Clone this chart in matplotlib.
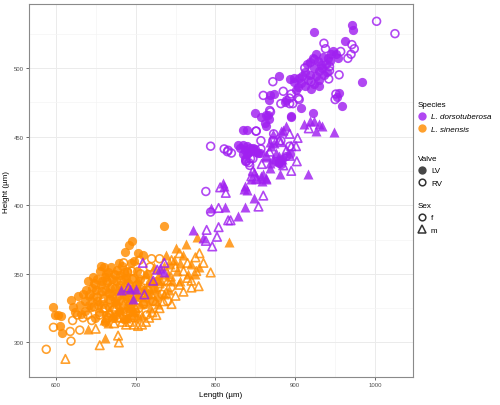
import matplotlib
matplotlib.use("Agg")
import matplotlib.pyplot as plt
from matplotlib.lines import Line2D

plt.rcParams['font.family'] = ['Liberation Sans', 'DejaVu Sans']

# ---------------- data (Length, Height in µm) ----------------
# L. dorsotuberosa, LV, female (filled circles)
dor_lv_f = [(923,526),(971,531),(972,528),(963,520),(984,490),(947,512),(951,510),(954,507),
            (945,510),(941,507),(922,507),(918,504),(928,505),(932,502),(924,500),(930,498),
            (934,500),(936,495),(926,494),(930,491),(918,495),(916,491),(909,494),(905,493),
            (907,489),(903,486),(901,484),(899,490),(912,487),(920,485),(924,488),(930,487),
            (955,482),(953,479),(959,472),(907,471),(893,492),(880,494),(868,480),(874,481),
            (889,477),(887,475),(895,464),(867,477),(850,467),(857,464),(864,466),(867,463),
            (862,460),(864,458),(922,467),(835,455),(839,455),(828,444),(835,444),(839,443),
            (847,442),(851,439),(853,438),(841,438),(835,437),(876,432),(880,431),(884,434),
            (889,436),(893,437),(882,430),(866,466),(895,465),(831,442),(837,440),(843,442),
            (850,441),(856,438),(839,437),(837,434),(898,493),(912,497),(938,503),(940,497),
            (915,503),(935,508),(926,510),(944,505)]
# L. dorsotuberosa, RV, female (open circles)
dor_rv_f = [(1002,534),(1025,525),(971,517),(974,514),(970,510),(957,512),(936,518),(966,507),
            (943,498),(942,492),(955,495),(943,501),(912,500),(924,506),(950,477),(951,481),
            (905,477),(904,478),(893,474),(885,483),(882,474),(872,490),(860,480),(869,468),
            (893,478),(895,481),(851,454),(873,452),(794,443),(816,440),(820,438),(839,432),
            (842,431),(844,434),(847,440),(857,441),(872,447),(882,447),(893,443),(897,474),
            (788,410),(794,395),(811,441),(815,439),(851,454),(857,447),(838,432),(847,434),
            (843,429),(868,469),(920,490),(938,514)]
# L. dorsotuberosa, LV, male (filled triangles)
dor_lv_m = [(889,458),(882,454),(872,452),(868,446),(870,443),(876,438),(880,436),(884,434),
            (878,432),(872,434),(864,435),(868,431),(860,423),(864,419),(881,423),(916,423),
            (810,416),(837,414),(926,454),(949,453),(911,459),(930,459),(918,461),(923,461),
            (933,458),(885,455),(857,421),(852,420),(848,424),(845,419),(858,418),(863,420),
            (868,427),(874,445),(811,414),(836,412),(840,411),(848,405),(837,399),(812,399),
            (795,398),(828,392),(772,382),(785,376),(682,338),(693,339),(700,339),(697,332),
            (736,351),(730,354)]
# L. dorsotuberosa, RV, male (open triangles)
dor_rv_m = [(893,452),(903,449),(882,446),(895,443),(901,443),(889,440),(893,436),(885,429),
            (895,425),(858,430),(847,425),(845,421),(851,419),(917,456),(902,432),(880,447),
            (868,439),(864,436),(806,413),(813,409),(804,398),(860,407),(854,399),(804,384),
            (816,389),(819,389),(789,382),(802,377),(796,370),(788,374),(709,358),(736,358),
            (727,353),(722,345),(711,335),(691,340)]
# L. sinensis, LV, female (filled circles)
sin_lv_f = [(596,326),(599,320),(603,320),(606,319),(605,312),(608,307),(619,331),(621,326),
            (628,334),(630,327),(624,322),(632,321),(636,330),(638,338),(640,345),(642,334),
            (644,326),(645,340),(646,348),(648,343),(650,338),(651,330),(652,346),(654,322),
            (655,352),(656,335),(657,342),(659,328),(660,355),(661,348),(662,338),(663,320),
            (664,344),(665,332),(666,351),(667,326),(668,340),(669,355),(670,346),(671,334),
            (672,318),(673,350),(674,340),(675,328),(676,345),(677,353),(678,336),(679,322),
            (680,342),(681,349),(682,331),(683,356),(684,339),(685,317),(686,346),(687,366),
            (688,334),(689,352),(690,325),(691,343),(692,371),(693,337),(694,358),(695,330),
            (696,374),(697,347),(698,359),(699,322),(700,341),(702,352),(703,365),(704,333),
            (706,346),(709,364),(710,338),(712,328),(714,350),(716,335),(718,343),(720,330),
            (722,338),(725,345),(728,333),(736,385),(647,333),(649,318),(653,327),(658,345),
            (663,350),(667,336),(674,330),(679,358),(684,324),(688,347),(693,322),(702,318),
            (642,327),(637,323),(634,335),(661,315),(657,356),(676,320),(685,351),(690,318)]
# L. sinensis, RV, female (open circles)
sin_rv_f = [(588,295),(597,311),(618,308),(619,301),(621,316),(630,309),(634,318),(627,320),
            (640,320),(645,316),(648,326),(652,333),(655,320),(658,337),(662,325),(664,345),
            (666,318),(668,331),(671,340),(673,324),(675,349),(677,333),(680,318),(682,345),
            (684,330),(686,340),(688,322),(690,351),(692,336),(694,328),(696,346),(698,318),
            (700,333),(702,342),(704,325),(706,350),(708,336),(710,328),(712,345),(714,320),
            (716,338),(718,355),(720,361),(722,330),(725,348),(728,340),(730,361),(733,335),
            (736,345),(740,330),(744,340),(705,360),(695,352),(685,358),(660,332),(650,342),
            (643,335)]
# L. sinensis, LV, male (filled triangles)
sin_lv_m = [(640,310),(662,303),(660,316),(665,314),(670,320),(675,330),(680,325),(685,335),
            (690,330),(695,340),(700,335),(703,345),(706,328),(710,340),(713,350),(716,336),
            (720,345),(723,355),(726,340),(729,350),(732,345),(735,356),(738,364),(740,350),
            (743,357),(746,345),(748,360),(750,369),(752,352),(755,358),(760,364),(763,372),
            (766,350),(770,357),(774,350),(777,377),(780,355),(817,373),(728,328),(718,325),
            (708,320),(698,322),(688,318),(742,338),(756,345),(735,335),(712,333),(694,327)]
# L. sinensis, RV, male (open triangles)
sin_rv_m = [(612,288),(655,298),(679,300),(678,305),(650,310),(745,328),(779,341),(794,351),
            (780,365),(776,352),(785,358),(770,340),(765,347),(760,337),(755,342),(750,334),
            (744,348),(738,336),(735,330),(730,325),(726,320),(721,322),(717,318),(713,315),
            (708,313),(703,312),(698,313),(693,315),(688,313),(683,315),(678,318),(673,314),
            (668,322),(663,318),(700,325),(710,330),(720,335),(730,343),(740,345),(750,355),
            (760,352),(770,345),(775,362),(765,358),(755,365),(745,360),(725,330),(715,340),
            (705,338),(695,320),(685,328),(672,326),(660,325)]

species_labels = ["L. dorsotuberosa", "L. sinensis"]
valve_labels = ["LV", "RV"]
sex_labels = ["f", "m"]
x_ticks = [600, 700, 800, 900, 1000]
y_ticks = [300, 350, 400, 450, 500]

PURPLE = "#A020F0"
ORANGE = "#FF8C00"
ALPHA = 0.82

fig = plt.figure(figsize=(5.0, 4.06), dpi=100)
ax = fig.add_axes([0.0574, 0.0682, 0.7692, 0.9188])

def draw(pts, color, filled, marker):
    xs = [p[0] for p in pts]
    ys = [p[1] for p in pts]
    s = 44 if marker == 'o' else 52
    if filled:
        ax.scatter(xs, ys, s=s, marker=marker, c=color, alpha=ALPHA,
                   linewidths=0, zorder=3)
    else:
        ax.scatter(xs, ys, s=s * 0.72, marker=marker, facecolors='none',
                   edgecolors=color, alpha=ALPHA, linewidths=1.2, zorder=3)

draw(sin_lv_f, ORANGE, True, 'o')
draw(sin_rv_f, ORANGE, False, 'o')
draw(sin_lv_m, ORANGE, True, '^')
draw(sin_rv_m, ORANGE, False, '^')
draw(dor_lv_f, PURPLE, True, 'o')
draw(dor_rv_f, PURPLE, False, 'o')
draw(dor_lv_m, PURPLE, True, '^')
draw(dor_rv_m, PURPLE, False, '^')

ax.set_xlim(566, 1048)
ax.set_ylim(274.6, 546.4)
ax.set_xticks(x_ticks)
ax.set_yticks(y_ticks)
ax.set_xticks([650, 750, 850, 950], minor=True)
ax.set_yticks([275, 325, 375, 425, 475, 525], minor=True)
ax.grid(True, which='major', color='#EBEBEB', linewidth=0.7, zorder=0)
ax.grid(True, which='minor', color='#F4F4F4', linewidth=0.5, zorder=0)
ax.set_axisbelow(True)
ax.tick_params(which='major', labelsize=4.3, colors='#4D4D4D', length=2, width=0.6, pad=1.5)
ax.tick_params(which='minor', length=0)
for sp in ax.spines.values():
    sp.set_color('#8A8A8A')
    sp.set_linewidth(0.8)
ax.set_xlabel("Length (µm)", fontsize=5.8, labelpad=3)
ax.set_ylabel("Height (µm)", fontsize=5.8, labelpad=3)

# ---------------- legends ----------------
fs = 5.8
h_species = [Line2D([], [], marker='o', linestyle='none', markersize=6,
                    markerfacecolor=c, markeredgewidth=0, alpha=ALPHA)
             for c in (PURPLE, ORANGE)]
h_valve = [Line2D([], [], marker='o', linestyle='none', markersize=6,
                  markerfacecolor='#333333', markeredgewidth=0, alpha=0.9),
           Line2D([], [], marker='o', linestyle='none', markersize=4.8,
                  markerfacecolor='none', markeredgecolor='#333333', markeredgewidth=1.1)]
h_sex = [Line2D([], [], marker='o', linestyle='none', markersize=4.8,
                markerfacecolor='none', markeredgecolor='#333333', markeredgewidth=1.1),
         Line2D([], [], marker='^', linestyle='none', markersize=5.6,
                markerfacecolor='none', markeredgecolor='#333333', markeredgewidth=1.1)]

def add_leg(handles, labels, title, ytop, italic=False):
    leg = fig.legend(handles, labels, title=title, loc='upper left',
                     bbox_to_anchor=(0.836, ytop), frameon=False, fontsize=fs,
                     title_fontsize=fs, handlelength=1.0, handletextpad=0.6,
                     labelspacing=0.6, borderpad=0, borderaxespad=0,
                     alignment='left')
    if italic:
        for t in leg.get_texts():
            t.set_style('italic')
    return leg

add_leg(h_species, species_labels, "Species", 1 - 102 / 406, italic=True)
add_leg(h_valve, valve_labels, "Valve", 1 - 156 / 406)
add_leg(h_sex, sex_labels, "Sex", 1 - 203 / 406)

fig.savefig("out.png", dpi=100)
